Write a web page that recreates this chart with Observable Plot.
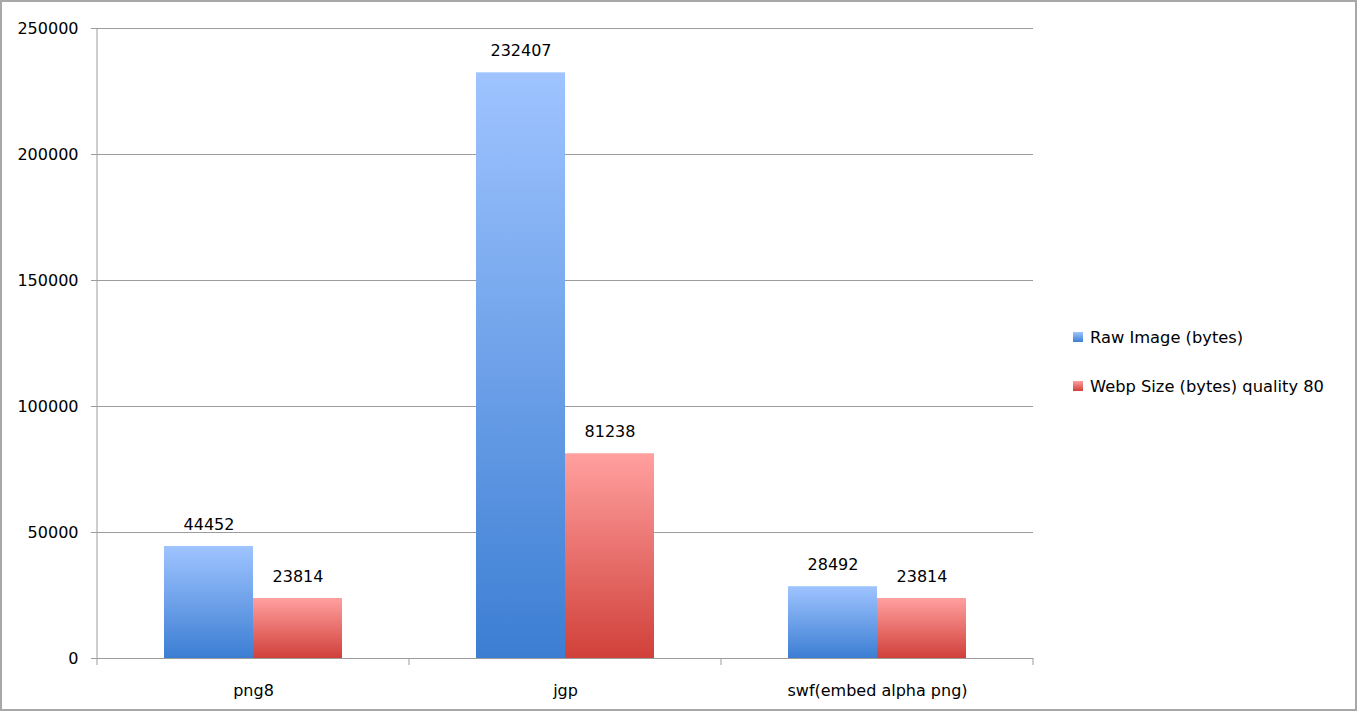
<!DOCTYPE html>
<html>
<head>
<meta charset="utf-8">
<script src="https://cdn.jsdelivr.net/npm/d3@7"></script>
<script src="https://cdn.jsdelivr.net/npm/@observablehq/plot@0.6"></script>
<style>
  html, body { margin: 0; padding: 0; background: #fff; }
  #wrap { position: relative; width: 1359px; height: 713px; overflow: hidden; font-family: "DejaVu Sans", sans-serif; }
  #border { position: absolute; left: 0; top: 0; width: 1357px; height: 711px; box-sizing: border-box; border: 2px solid #a8a8a8; pointer-events: none; }
  #chart { position: absolute; left: 0; top: 0; }
  #legend { position: absolute; left: 1073px; top: 326px; font-size: 16.3px; color: #000; }
  .item { display: flex; align-items: center; height: 22px; margin-bottom: 27px; }
  .sw { width: 10px; height: 10px; margin-right: 7px; }
</style>
</head>
<body>
<div id="wrap">
  <div id="chart"></div>
  <div id="legend"></div>
  <div id="border"></div>
</div>
<script>
const categories = ["png8", "jgp", "swf(embed alpha png)"];
const seriesNames = ["Raw Image (bytes)", "Webp Size (bytes) quality 80"];
const rawValues = [44452, 232407, 28492];
const webpValues = [23814, 81238, 23814];
const yTicks = [0, 50000, 100000, 150000, 200000, 250000];

const gradients = [
  {id: "gBlue", top: "#9fc4ff", bottom: "#3c7ed3"},
  {id: "gRed", top: "#ffa09f", bottom: "#d1403a"}
];

const data = categories.flatMap((c, i) => [
  {category: c, series: seriesNames[0], value: rawValues[i]},
  {category: c, series: seriesNames[1], value: webpValues[i]}
]);

const grid = "#9c9c9c";

const plot = Plot.plot({
  width: 1359,
  height: 713,
  marginLeft: 97,
  marginRight: 326,
  marginTop: 28,
  marginBottom: 55,
  style: {fontFamily: "DejaVu Sans, sans-serif", fontSize: "16px", color: "#000", background: "transparent"},
  fx: {domain: categories, paddingInner: 0, paddingOuter: 0, label: null},
  x: {domain: seriesNames, paddingInner: 0, paddingOuter: 0.75, axis: null},
  y: {domain: [0, 250000], label: null},
  color: {domain: seriesNames, range: gradients.map(g => `url(#${g.id})`)},
  marks: [
    Plot.gridY(yTicks, {stroke: grid, strokeOpacity: 1}),
    Plot.barY(data, {fx: "category", x: "series", y: "value", fill: "series"}),
    Plot.text(data, {fx: "category", x: "series", y: "value", text: d => String(d.value), dy: -22, fontSize: 16, fill: "#000"}),
    Plot.ruleY([0], {stroke: grid}),
    Plot.axisY(yTicks, {tickSize: 6, tickPadding: 13, tickFormat: d => String(d), stroke: grid, fill: "#000", fontSize: 16, label: null}),
    Plot.axisFx({anchor: "bottom", tickSize: 0, tickPadding: 26, fontSize: 16, label: null, fill: "#000"})
  ]
});

// gradient definitions
const svg = d3.select(plot);
const defs = svg.insert("defs", ":first-child");
for (const g of gradients) {
  const lg = defs.append("linearGradient").attr("id", g.id).attr("x1", 0).attr("y1", 0).attr("x2", 0).attr("y2", 1);
  lg.append("stop").attr("offset", "0%").attr("stop-color", g.top);
  lg.append("stop").attr("offset", "100%").attr("stop-color", g.bottom);
}

// axis line (left) and category boundary ticks (bottom), from the plot's scales
const fx = plot.scale("fx");
const y = plot.scale("y");
const y0 = y.apply(0), yTop = y.apply(250000);
const edges = [...categories.map(c => fx.apply(c)), fx.apply(categories[categories.length - 1]) + fx.bandwidth];
const g = svg.append("g").attr("stroke", grid).attr("fill", "none");
g.append("line").attr("x1", edges[0]).attr("x2", edges[0]).attr("y1", yTop).attr("y2", y0);
for (const e of edges) {
  g.append("line").attr("x1", e).attr("x2", e).attr("y1", y0).attr("y2", y0 + 7);
}

document.getElementById("chart").appendChild(plot);

// legend
const legend = d3.select("#legend");
seriesNames.forEach((s, i) => {
  const item = legend.append("div").attr("class", "item");
  item.append("div").attr("class", "sw")
    .style("background", `linear-gradient(${gradients[i].top}, ${gradients[i].bottom})`);
  item.append("span").text(s);
});
</script>
</body>
</html>
